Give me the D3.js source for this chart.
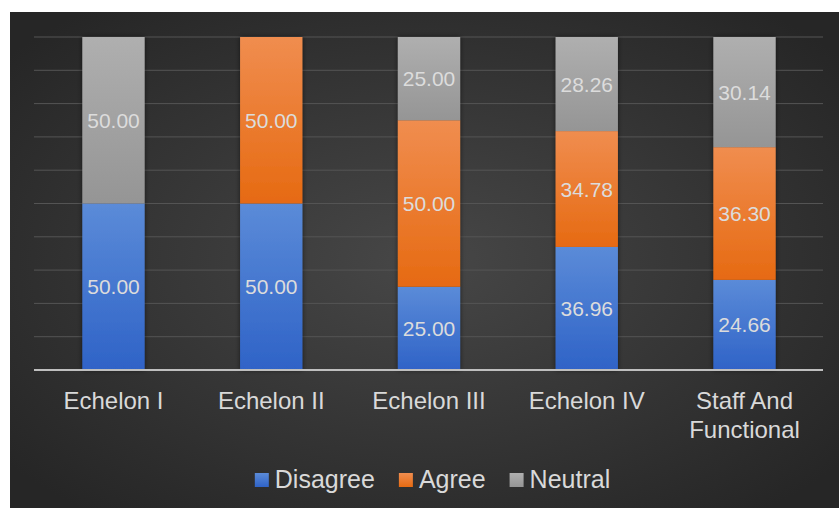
<!DOCTYPE html>
<html>
<head>
<meta charset="utf-8">
<script src="https://cdn.jsdelivr.net/npm/d3@7"></script>
<style>
  html, body { margin: 0; padding: 0; background: #ffffff; }
  svg { display: block; }
  text { font-family: "Liberation Sans", Arial, sans-serif; }
</style>
</head>
<body>
<svg id="chart" width="839" height="508"></svg>
<script>
// Survey responses by echelon (values shown on each segment; bars are 100% stacked)
const categories = ["Echelon I", "Echelon II", "Echelon III", "Echelon IV", "Staff And Functional"];
const seriesNames = ["Disagree", "Agree", "Neutral"];
const disagree = [50.00, 50.00, 25.00, 36.96, 24.66];
const agree    = [0,     50.00, 50.00, 34.78, 36.30];
const neutral  = [50.00, 0,     25.00, 28.26, 30.14];
const gridTicks = [0, 0.1, 0.2, 0.3, 0.4, 0.5, 0.6, 0.7, 0.8, 0.9, 1.0];

const rows = categories.map((c, i) => ({
  category: c, Disagree: disagree[i], Agree: agree[i], Neutral: neutral[i]
}));

const W = 839, H = 508;
const svg = d3.select("#chart");
const defs = svg.append("defs");

// Panel background: radial glow in the middle, darker toward the edges
const bg = defs.append("radialGradient").attr("id", "bgGrad")
  .attr("cx", "50%").attr("cy", "50%").attr("r", "65%");
bg.append("stop").attr("offset", "0%").attr("stop-color", "#474747");
bg.append("stop").attr("offset", "100%").attr("stop-color", "#262626");

svg.append("rect").attr("x", 10).attr("y", 12).attr("width", W - 10).attr("height", H - 12)
  .attr("fill", "url(#bgGrad)");

// Segment fills: lighter at the top, deeper at the bottom
const fills = {
  Disagree: ["#5b8bd8", "#2f63c7"],
  Agree:    ["#f08d4f", "#e66a12"],
  Neutral:  ["#afafaf", "#959595"]
};
seriesNames.forEach(s => {
  const g = defs.append("linearGradient").attr("id", "grad-" + s)
    .attr("x1", 0).attr("y1", 0).attr("x2", 0).attr("y2", 1);
  g.append("stop").attr("offset", "0%").attr("stop-color", fills[s][0]);
  g.append("stop").attr("offset", "100%").attr("stop-color", fills[s][1]);
});

// Soft shadow around the bars
const sh = defs.append("filter").attr("id", "barShadow")
  .attr("x", "-30%").attr("y", "-10%").attr("width", "160%").attr("height", "120%");
sh.append("feDropShadow").attr("dx", 0).attr("dy", 0).attr("stdDeviation", 2.5)
  .attr("flood-color", "#000").attr("flood-opacity", 0.55);

const margin = { left: 34, right: 16, top: 37, bottom: 138 };
const y0 = H - margin.bottom; // baseline

const x = d3.scaleBand().domain(categories)
  .range([margin.left + 1, W - margin.right])
  .paddingInner(0.605).paddingOuter(0.3);
const y = d3.scaleLinear().domain([0, 1]).range([y0, margin.top]);

// Horizontal gridlines
svg.append("g").selectAll("line").data(gridTicks.slice(1)).join("line")
  .attr("x1", margin.left).attr("x2", W - margin.right)
  .attr("y1", d => y(d)).attr("y2", d => y(d))
  .attr("stroke", "#545454").attr("stroke-width", 1);

const stack = d3.stack().keys(seriesNames).offset(d3.stackOffsetExpand);
const layers = stack(rows);

const barsG = svg.append("g").attr("filter", "url(#barShadow)");
barsG.selectAll("g").data(layers).join("g")
  .attr("fill", d => "url(#grad-" + d.key + ")")
  .selectAll("rect").data(d => d.filter(p => p[1] - p[0] > 0)).join("rect")
  .attr("x", d => x(d.data.category))
  .attr("width", x.bandwidth())
  .attr("y", d => y(d[1]))
  .attr("height", d => y(d[0]) - y(d[1]));

// Value labels centred in each segment
const labelsG = svg.append("g");
layers.forEach(layer => {
  labelsG.selectAll(null).data(layer.filter(p => p[1] - p[0] > 0)).join("text")
    .attr("x", d => x(d.data.category) + x.bandwidth() / 2)
    .attr("y", d => (y(d[0]) + y(d[1])) / 2)
    .attr("dy", "0.36em")
    .attr("text-anchor", "middle")
    .attr("font-size", 21)
    .attr("fill", "#dcdcdc")
    .text(d => d.data[layer.key].toFixed(2));
});

// Category axis
const xAxis = svg.append("g").attr("transform", `translate(0,${y0})`)
  .call(d3.axisBottom(x).tickSize(0).tickPadding(0));
xAxis.select(".domain").remove();
svg.append("line").attr("x1", margin.left).attr("x2", W - margin.right)
  .attr("y1", y0).attr("y2", y0).attr("stroke", "#bfbfbf").attr("stroke-width", 2);

xAxis.selectAll(".tick text").each(function (d) {
  const t = d3.select(this);
  t.text(null).attr("y", 0).attr("dy", null)
    .attr("font-size", 24).attr("fill", "#d9d9d9");
  const lines = d === "Staff And Functional" ? ["Staff And", "Functional"] : [d];
  lines.forEach((ln, i) => {
    t.append("tspan").attr("x", 0).attr("y", 39 + i * 29).text(ln);
  });
});

// Legend
const legend = svg.append("g");
const items = legend.selectAll("g").data(seriesNames).join("g");
items.append("rect").attr("width", 14).attr("height", 14).attr("y", -15)
  .attr("fill", d => "url(#grad-" + d + ")");
items.append("text").attr("x", 20).attr("y", 0).attr("font-size", 25)
  .attr("fill", "#d9d9d9").text(d => d);
let cx = 0;
const gap = 24;
items.each(function () {
  const w = this.getBBox().width;
  d3.select(this).attr("transform", `translate(${cx},0)`);
  cx += w + gap;
});
const totalW = cx - gap;
legend.attr("transform", `translate(${432.5 - totalW / 2},488)`);
</script>
</body>
</html>
